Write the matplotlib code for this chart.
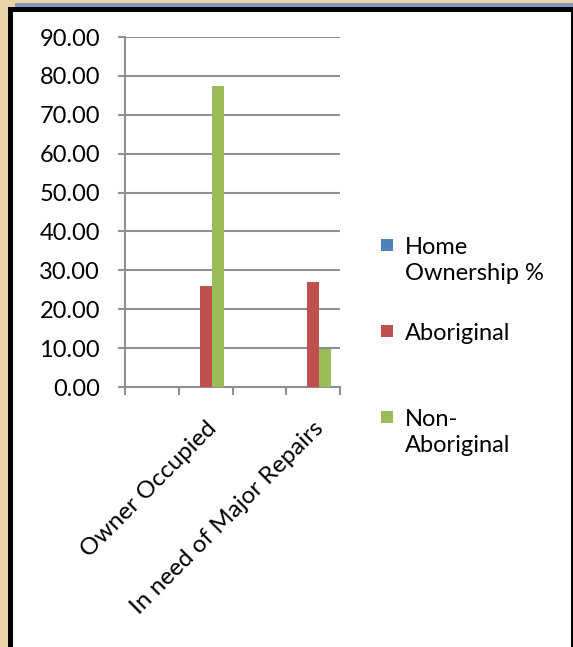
import numpy as np
import matplotlib.pyplot as plt
from matplotlib.patches import Rectangle
from matplotlib.transforms import ScaledTranslation

# donnees du graphique
categories = ["", "Owner Occupied", "", "In need of Major Repairs"]
series = ["Home\nOwnership %", "Aboriginal", "Non-\nAboriginal"]
home_ownership = [0, 0, 0, 0]
aboriginal = [0, 26.0, 0, 27.0]
non_aboriginal = [0, 77.4, 0, 9.7]
couleurs = ["#4F81BD", "#C0504D", "#9BBB59"]
yticks = np.arange(0, 91, 10)

W, H = 573, 647
plt.rcParams['font.family'] = ['Lato', 'DejaVu Sans']
taille = 17

fig = plt.figure(figsize=(W / 100, H / 100), dpi=100)
fig.patch.set_facecolor('#e9d3a7')


def px(x, y):
    # pixels (origine en haut a gauche) -> fraction de figure
    return x / W, 1 - y / H


def rect_px(x0, y0, x1, y1, color):
    fx, fy = px(x0, y1)
    fig.add_artist(Rectangle((fx, fy), (x1 - x0) / W, (y1 - y0) / H,
                             transform=fig.transFigure, color=color, lw=0, zorder=0))


# cadre
rect_px(15, 3, W, 7, '#7b96c8')
rect_px(8, 7, W, H, 'black')
rect_px(13, 12, W - 2, H, 'white')

ax = fig.add_axes([125 / W, 1 - 387 / H, 215 / W, 350 / H])
ax.set_facecolor('none')

x = np.arange(len(categories))
largeur = 1 / 4.5
for i, (vals, c) in enumerate(zip([home_ownership, aboriginal, non_aboriginal], couleurs)):
    ax.bar(x + (i - 1) * largeur, vals, largeur, color=c, zorder=3)

ax.set_xlim(-0.5, len(categories) - 0.5)
ax.set_ylim(0, 90)
ax.set_yticks(yticks)
ax.set_yticklabels(['%.2f' % v for v in yticks])
ax.yaxis.grid(True, color='#909090', lw=1.5)
ax.set_axisbelow(True)

ax.set_xticks(np.arange(-0.5, len(categories), 1))
ax.set_xticklabels([])
ax.set_xticks(x, minor=True)
ax.set_xticklabels(categories, minor=True, rotation=45, ha='right', va='top',
                   rotation_mode='anchor', fontsize=17.5)
decalage = ScaledTranslation(-6 / 100, 0, fig.dpi_scale_trans)
for lab in ax.get_xticklabels(minor=True):
    lab.set_transform(lab.get_transform() + decalage)
ax.tick_params(axis='x', which='minor', length=0, pad=22)
ax.tick_params(axis='x', which='major', length=6, width=1.5, color='#909090')
ax.tick_params(axis='y', length=5, width=1.5, color='#909090', labelsize=taille, pad=13)

for s in ['top', 'right']:
    ax.spines[s].set_visible(False)
for s in ['left', 'bottom']:
    ax.spines[s].set_color('#909090')
    ax.spines[s].set_linewidth(1.5)

# legende
for j, (nom, c, yc) in enumerate(zip(series, couleurs, [245, 331, 417])):
    rect_px(381, yc - 6, 393, yc + 6, c)
    tx, ty = px(405, yc - 8)
    fig.text(tx, ty, nom, fontsize=taille, va='top', ha='left', linespacing=1.3)

fig.savefig('out.png', dpi=100)
